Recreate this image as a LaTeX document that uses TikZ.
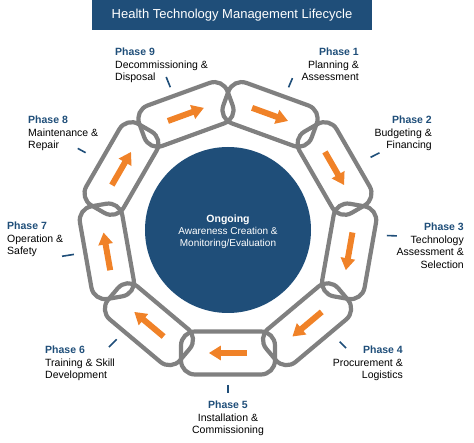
\documentclass[tikz,border=0pt]{standalone}
\usepackage{fontspec}
\setmainfont{Liberation Sans}
\usetikzlibrary{calc,positioning,arrows.meta}
\definecolor{hblue}{RGB}{31,78,121}
\definecolor{chaingray}{RGB}{128,128,128}
\definecolor{floworange}{RGB}{240,130,40}

\begin{document}
\begin{tikzpicture}[x=1pt,y=1pt,
    link/.style={draw=chaingray,line width=4.2pt,rounded corners=14pt,minimum width=94pt,minimum height=43pt,inner sep=0pt},
    flow/.style={draw=floworange,line width=6pt,-{Triangle[length=12pt,width=14pt]}},
    tick/.style={draw=hblue,line width=1.6pt},
    phase/.style={font=\fontsize{10.5}{12.5}\selectfont,inner sep=0pt}]
              \useasboundingbox (-228,-213) rectangle (246,230);
              \node[fill=hblue,minimum width=280pt,minimum height=30pt,text=white,font=\fontsize{13}{15}\selectfont] (title) at (4,215) {Health Technology Management Lifecycle};
              \node[circle,fill=hblue,minimum size=166pt,inner sep=0pt] (hub) at (0,0) {};
              \node[text=white,align=center,font=\fontsize{10}{12}\selectfont,inner sep=0pt] (hubtext) at ([yshift=-2pt]hub.center) {{\fontsize{10.5}{12}\selectfont\textbf{Ongoing}}\\Awareness Creation \&\\Monitoring/Evaluation};

              \node[link,rotate=-20] (link1) at (70:123) {};
              \node[link,rotate=-60] (link2) at (30:123) {};
              \node[link,rotate=-100] (link3) at (-10:123) {};
              \node[link,rotate=-140] (link4) at (-50:123) {};
              \node[link,rotate=180] (link5) at (-90:123) {};
              \node[link,rotate=140] (link6) at (-130:123) {};
              \node[link,rotate=100] (link7) at (-170:123) {};
              \node[link,rotate=60] (link8) at (150:123) {};
              \node[link,rotate=20] (link9) at (110:123) {};

              \draw[flow] ($(link1.center)!.39!(link1.west)$) -- ($(link1.center)!.39!(link1.east)$);
              \draw[flow] ($(link2.center)!.39!(link2.west)$) -- ($(link2.center)!.39!(link2.east)$);
              \draw[flow] ($(link3.center)!.39!(link3.west)$) -- ($(link3.center)!.39!(link3.east)$);
              \draw[flow] ($(link4.center)!.39!(link4.west)$) -- ($(link4.center)!.39!(link4.east)$);
              \draw[flow] ($(link5.center)!.39!(link5.west)$) -- ($(link5.center)!.39!(link5.east)$);
              \draw[flow] ($(link6.center)!.39!(link6.west)$) -- ($(link6.center)!.39!(link6.east)$);
              \draw[flow] ($(link7.center)!.39!(link7.west)$) -- ($(link7.center)!.39!(link7.east)$);
              \draw[flow] ($(link8.center)!.39!(link8.west)$) -- ($(link8.center)!.39!(link8.east)$);
              \draw[flow] ($(link9.center)!.39!(link9.west)$) -- ($(link9.center)!.39!(link9.east)$);

              \draw[tick] (67:155) -- (67:165);
              \draw[tick] (27:160) -- (27:170);
              \draw[tick] (-2:159) -- (-2:169);
              \draw[tick] (-45:158) -- (-45:167);
              \draw[tick] (-90:155) -- (-90:163);
              \draw[tick] (-135.5:156) -- (-135.5:167);
              \draw[tick] (189:156) -- (189:168);
              \draw[tick] (151.5:162) -- (151.5:171);
              \draw[tick] (112:154) -- (112:165);

              \node[phase,anchor=north east,align=right] (p1) at (131,182) {\textcolor{hblue}{\textbf{Phase 1}}\\Planning \&\\Assessment};
              \node[phase,anchor=north east,align=right] (p2) at (204,114) {\textcolor{hblue}{\textbf{Phase 2}}\\Budgeting \&\\Financing};
              \node[phase,anchor=north east,align=right] (p3) at (236,7) {\textcolor{hblue}{\textbf{Phase 3}}\\Technology\\Assessment \&\\Selection};
              \node[phase,anchor=north east,align=right] (p4) at (175,-116) {\textcolor{hblue}{\textbf{Phase 4}}\\Procurement \&\\Logistics};
              \node[phase,anchor=north,align=center] (p5) at (0,-171) {\textcolor{hblue}{\textbf{Phase 5}}\\Installation \&\\Commissioning};
              \node[phase,anchor=north west,align=left] (p6) at (-183,-116) {\textcolor{hblue}{\textbf{Phase 6}}\\Training \& Skill\\Development};
              \node[phase,anchor=north west,align=left] (p7) at (-221,8) {\textcolor{hblue}{\textbf{Phase 7}}\\Operation \&\\Safety};
              \node[phase,anchor=north west,align=left] (p8) at (-200,114) {\textcolor{hblue}{\textbf{Phase 8}}\\Maintenance \&\\Repair};
              \node[phase,anchor=north west,align=left] (p9) at (-113,182) {\textcolor{hblue}{\textbf{Phase 9}}\\Decommissioning \&\\Disposal};
            \end{tikzpicture}
\end{document}
